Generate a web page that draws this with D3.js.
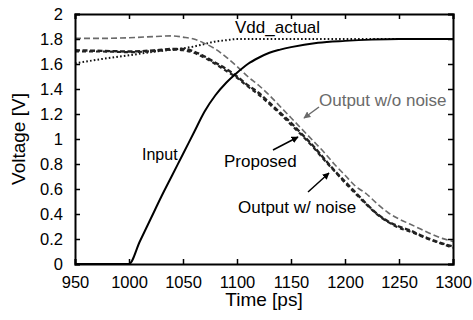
<!DOCTYPE html>
<html><head><meta charset="utf-8">
<script src="https://cdn.jsdelivr.net/npm/d3@7"></script>
<style>body{margin:0;background:#fff}svg{display:block}text{font-family:"Liberation Sans",Arial,sans-serif}</style>
</head><body><svg id="c" width="473" height="320"></svg>
<script>
const xTicks = [950,1000,1050,1100,1150,1200,1250,1300];
const yTicks = [0,0.2,0.4,0.6,0.8,1,1.2,1.4,1.6,1.8,2];

const inputT = [950,1000,1010,1020,1030,1040,1050,1060,1070,1080,1090,1100,1110,1120,1130,1140,1150,1175,1200,1225,1250,1300];
const inputV = [0,0,0.18,0.36,0.54,0.71,0.88,1.05,1.22,1.35,1.45,1.53,1.60,1.65,1.69,1.715,1.735,1.77,1.785,1.795,1.8,1.8];

const vddT = [950,975,1000,1025,1050,1060,1070,1080,1090,1100,1125,1300];
const vddV = [1.605,1.64,1.67,1.70,1.725,1.74,1.76,1.78,1.79,1.80,1.80,1.80];

const outT = [950,975,1000,1025,1040,1050,1060,1070,1080,1090,1100,1110,1120,1130,1140,1150,1160,1170,1180,1190,1200,1210,1220,1230,1240,1250,1260,1270,1280,1290,1300];
const noiseV = [1.71,1.705,1.70,1.71,1.72,1.72,1.70,1.66,1.61,1.56,1.50,1.43,1.37,1.29,1.21,1.13,1.04,0.95,0.85,0.75,0.66,0.57,0.48,0.40,0.34,0.30,0.27,0.23,0.195,0.165,0.14];
const proposedV = [1.70,1.70,1.695,1.705,1.715,1.71,1.69,1.65,1.60,1.545,1.49,1.42,1.355,1.28,1.20,1.115,1.03,0.94,0.84,0.745,0.65,0.56,0.475,0.395,0.335,0.29,0.26,0.225,0.19,0.16,0.13];
const noNoiseV = [1.805,1.805,1.81,1.82,1.825,1.815,1.80,1.765,1.72,1.655,1.58,1.50,1.43,1.35,1.26,1.17,1.08,0.99,0.90,0.80,0.71,0.62,0.56,0.48,0.41,0.36,0.32,0.28,0.24,0.205,0.18];

const svg = d3.select("#c");
const L=75,R=453,T=14,B=264;
const x = d3.scaleLinear().domain([950,1300]).range([L,R]);
const y = d3.scaleLinear().domain([0,2]).range([B,T]);

const line = (ts,vs,curve)=>d3.line().x((d,i)=>x(ts[i])).y(d=>y(d)).curve(curve||d3.curveMonotoneX)(vs);

const g = svg.append("g");
g.append("path").attr("d",line(vddT,vddV)).attr("fill","none").attr("stroke","#111").attr("stroke-width",2).attr("stroke-dasharray","1.6,2.2");
g.append("path").attr("d",line(outT,noNoiseV)).attr("fill","none").attr("stroke","#6a6a6a").attr("stroke-width",1.6).attr("stroke-dasharray","6,3");
g.append("path").attr("d",line(outT,noiseV)).attr("fill","none").attr("stroke","#222").attr("stroke-width",2.4).attr("stroke-dasharray","5,2.5");
g.append("path").attr("d",line(outT,proposedV)).attr("fill","none").attr("stroke","#222").attr("stroke-width",2.2).attr("stroke-dasharray","4,3");
g.append("path").attr("d",line(inputT,inputV)).attr("fill","none").attr("stroke","#000").attr("stroke-width",2);

// axes
const ax = svg.append("g");
const fmtY = d=>String(+d.toFixed(1));
const axes = [
  ax.append("g").attr("transform",`translate(0,${B})`).call(d3.axisBottom(x).tickValues(xTicks).tickSize(-5).tickPadding(12).tickFormat(d3.format("d"))),
  ax.append("g").attr("transform",`translate(0,${T})`).call(d3.axisTop(x).tickValues(xTicks).tickSize(-5).tickFormat("")),
  ax.append("g").attr("transform",`translate(${L},0)`).call(d3.axisLeft(y).tickValues(yTicks).tickSize(-5).tickPadding(12).tickFormat(fmtY)),
  ax.append("g").attr("transform",`translate(${R},0)`).call(d3.axisRight(y).tickValues(yTicks).tickSize(-5).tickFormat(""))
];
axes.forEach(a=>a.attr("font-size",16.5).attr("font-family","Liberation Sans, Arial, sans-serif"));
ax.selectAll(".domain").attr("stroke","#000").attr("stroke-width",2);
ax.selectAll(".tick line").attr("stroke","#000").attr("stroke-width",1.5);
ax.selectAll(".tick text").attr("fill","#000");

svg.append("text").attr("x",(L+R)/2).attr("y",306).attr("text-anchor","middle").attr("font-size","19px").text("Time [ps]");
svg.append("text").attr("transform",`translate(25,${(T+B)/2}) rotate(-90)`).attr("text-anchor","middle").attr("font-size","19px").text("Voltage [V]");

// annotations
const defs = svg.append("defs");
function marker(id,col){
  defs.append("marker").attr("id",id).attr("viewBox","0 0 10 10").attr("refX",9).attr("refY",5)
    .attr("markerWidth",7).attr("markerHeight",7).attr("markerUnits","userSpaceOnUse").attr("orient","auto")
    .append("path").attr("d","M0,0L10,5L0,10z").attr("fill",col);
}
marker("ab","#000"); marker("ag","#6a6a6a");
const ann = svg.append("g").attr("font-size","17px");
ann.append("text").attr("x",235).attr("y",33).text("Vdd_actual");
ann.append("text").attr("x",142).attr("y",160).attr("font-size","16px").text("Input");
ann.append("text").attr("x",224).attr("y",167).text("Proposed");
ann.append("text").attr("x",238).attr("y",213).text("Output w/ noise");
ann.append("text").attr("x",319).attr("y",106).attr("fill","#6a6a6a").text("Output w/o noise");
ann.append("line").attr("x1",319).attr("y1",107).attr("x2",304).attr("y2",118).attr("stroke","#6a6a6a").attr("stroke-width",1.5).attr("marker-end","url(#ag)");
ann.append("line").attr("x1",273).attr("y1",150).attr("x2",298).attr("y2",137).attr("stroke","#000").attr("stroke-width",1.5).attr("marker-end","url(#ab)");
ann.append("line").attr("x1",308).attr("y1",192).attr("x2",329).attr("y2",173).attr("stroke","#000").attr("stroke-width",1.5).attr("marker-end","url(#ab)");
</script></body></html>
